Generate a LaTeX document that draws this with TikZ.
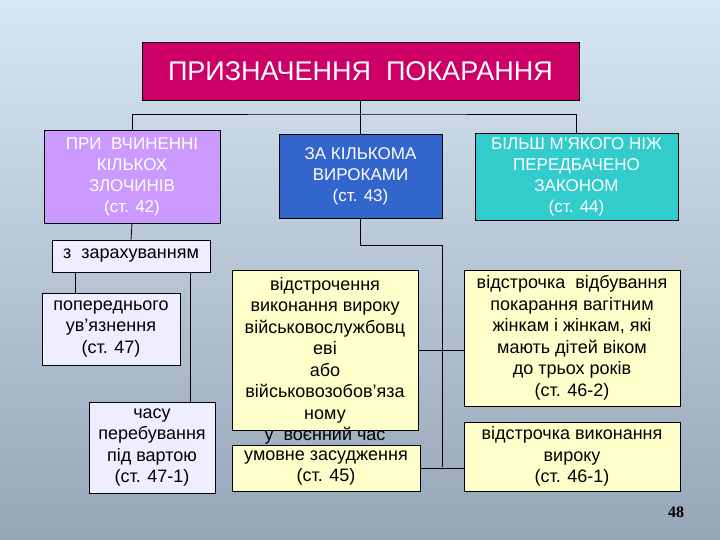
\documentclass[tikz,border=0pt]{standalone}
\usepackage{fontspec}
\setmainfont{Liberation Sans}
\newfontfamily\numfont{Liberation Serif}
\begin{document}
\begin{tikzpicture}[x=1pt,y=-1pt,
  bx/.style={draw=black,line width=0.6pt,align=center,inner sep=0pt,font=\fontsize{18}{21.5}\selectfont},
  hd/.style={font=\fontsize{17}{21}\selectfont},
  wt/.style={text=white},
  ln/.style={draw=black,line width=0.8pt}]
\definecolor{cTop}{HTML}{CC0066}
\definecolor{cViol}{HTML}{CC99FF}
\definecolor{cBlue}{HTML}{3366CC}
\definecolor{cTeal}{HTML}{33CCCC}
\definecolor{cLav}{HTML}{EEEEFF}
\definecolor{cYel}{HTML}{FFFFCC}
\shade[top color={rgb,255:red,214;green,230;blue,244}, bottom color={rgb,255:red,150;green,166;blue,182}] (0,0) rectangle (720,540);
\useasboundingbox (0,0) rectangle (720,540);
\node[bx,fill=cTop,wt,minimum width=437pt,minimum height=58pt,font=\fontsize{27}{30}\selectfont] (top) at (360.5,71) {ПРИЗНАЧЕННЯ~~ПОКАРАННЯ};
\node[bx,hd,fill=cViol,wt,minimum width=176pt,minimum height=93pt] (left) at (132,176.5) {ПРИ~ ВЧИНЕННІ\\КІЛЬКОХ\\ЗЛОЧИНІВ\\(ст. 42)};
\node[bx,hd,fill=cBlue,wt,minimum width=163pt,minimum height=84pt] (mid) at (360.5,176) {ЗА КІЛЬКОМА\\ВИРОКАМИ\\(ст. 43)};
\node[bx,hd,fill=cTeal,wt,minimum width=203pt,minimum height=87pt] (right) at (576.5,176.5) {БІЛЬШ М'ЯКОГО НІЖ\\ПЕРЕДБАЧЕНО\\ЗАКОНОМ\\(ст. 44)};
\node[bx,fill=cLav,minimum width=158pt,minimum height=32pt] (z) at (131,256) {з~ зарахуванням};
\node[bx,fill=cLav,minimum width=138pt,minimum height=72pt] (pop) at (111,329) {попереднього\\ув’язнення\\(ст. 47)};
\node[bx,fill=cLav,minimum width=126pt,minimum height=91pt] (chas) at (152,447.5) {часу\\перебування\\під вартою\\(ст. 47-1)};
\node[bx,fill=cYel,minimum width=186pt,minimum height=160pt] (yel) at (325,350) {відстрочення\\виконання вироку\\військовослужбовц\\еві\\або\\військовозобов’яза\\ному};
\node[font=\fontsize{18}{20}\selectfont] (war) at (325,436) {у~ воєнний час};
\node[bx,fill=cYel,minimum width=188pt,minimum height=46pt] (umov) at (326,468) {умовне засудження\\(ст. 45)};
\node[bx,fill=cYel,minimum width=216pt,minimum height=136pt] (r1) at (572,338) {відстрочка~ відбування\\покарання вагітним\\жінкам і жінкам, які\\мають дітей віком\\до трьох років\\(ст. 46-2)};
\node[bx,fill=cYel,minimum width=216pt,minimum height=69pt] (r2) at (572,456.5) {відстрочка виконання\\вироку\\(ст. 46-1)};
\node[font=\numfont\bfseries\fontsize{16}{18}\selectfont] (pg) at (676,512) {48};
% connectors
\coordinate (tj) at (360.5,114);
\draw[ln] (top.south) -- (tj);
\draw[ln] (left.north) |- (tj) -| (right.north);
\draw[ln] (tj) -- (mid.north);
\draw[ln] (left.south) -- (z.north);
\draw[ln] (z.south -| pop.north) ++(-36,0) coordinate (zl) -- (zl |- pop.north);
\draw[ln] (z.south -| chas.north) ++(38,0) coordinate (zr) -- (zr |- chas.north);
\coordinate (mj) at (442,245);
\draw[ln] (mid.south) |- (mj) -- (442,467);
\draw[ln] (yel.east) -- (r1.west |- yel.east);
\draw[ln] (umov.east) -- (r2.west |- umov.east);
\end{tikzpicture}
\end{document}
